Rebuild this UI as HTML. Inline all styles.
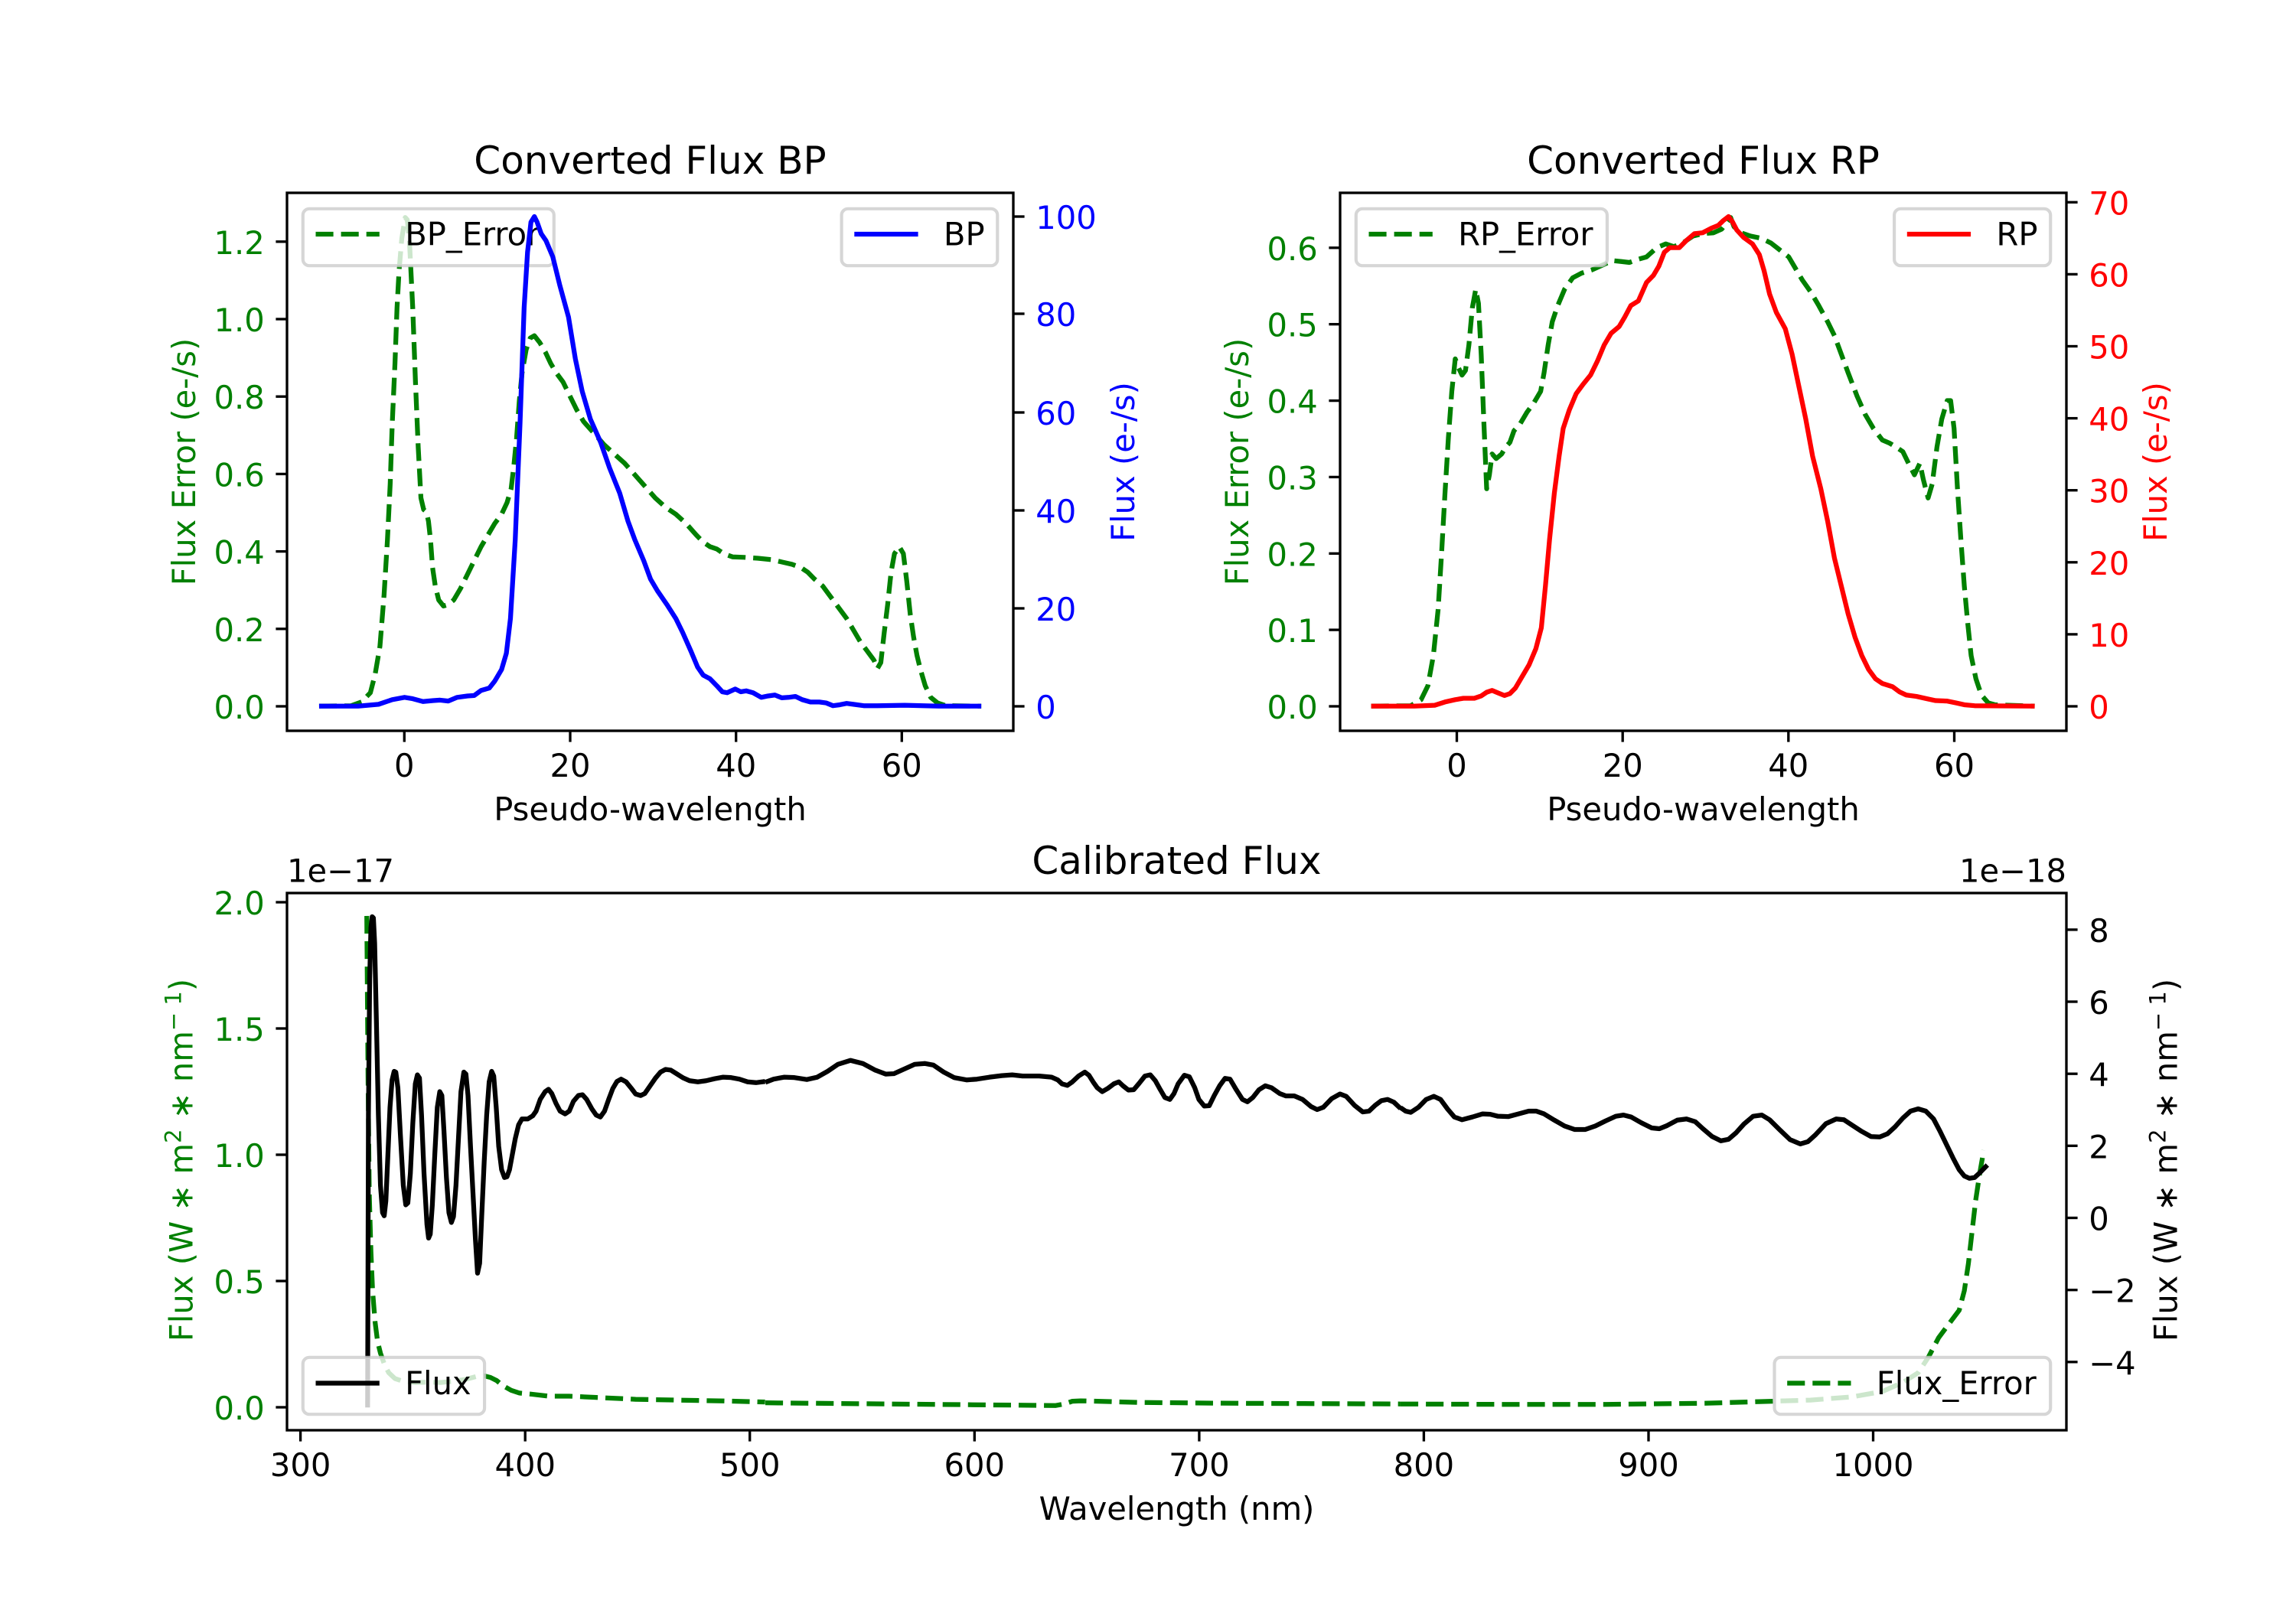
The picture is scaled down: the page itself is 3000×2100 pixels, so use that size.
<!DOCTYPE html>
<html><head><meta charset="utf-8">
<style>
html,body{margin:0;padding:0;background:#fff;}
svg{display:block;font-family:"DejaVu Sans","Liberation Sans",sans-serif;}
.ln{fill:none;stroke-width:6.25;stroke-linejoin:round;vector-effect:non-scaling-stroke;}
.ds{stroke-dasharray:23.1 10;stroke-linecap:butt;}
.t{font-size:41.67px;}
.tk{stroke:#000;stroke-width:3.33;}
.lg{fill:#fff;fill-opacity:0.8;stroke:#cccccc;stroke-opacity:0.8;stroke-width:4.17;}
</style></head>
<body>
<svg width="3000" height="2100" viewBox="0 0 3000 2100" xmlns="http://www.w3.org/2000/svg">
<rect x="0" y="0" width="3000" height="2100" fill="#fff"/>

<!-- ================= BP PANEL ================= -->
<g transform="matrix(0.892857 0 0 0.605877 200 160)">
<polyline class="ln ds" stroke="#008000" points="243,1259 290,1258 305,1250 318,1230 325,1190 332,1130 338,1020 343,900 347,780 350,650 354,520 357,400 360,320 364,250 369,205 372,210 375,250 380,400 384,560 388,700 392,810 396,835 400,840 403,860 406,900 409,960 413,1000 418,1030 425,1043 432,1040 440,1030 450,1005 460,975 470,945 480,915 490,890 500,865 510,845 518,820 524,790 528,740 532,680 536,600 540,540 546,490 552,465 558,460 566,475 574,495 582,520 590,540 600,560 610,590 620,620 630,645 645,670 660,695 675,715 690,735 705,760 720,785 735,810 750,830 765,845 780,865 795,890 805,905 815,915 825,920 835,930 848,937 865,938 885,940 905,943 920,948 935,953 948,960 958,970 968,985 980,1000 990,1020 1000,1040 1015,1070 1025,1095 1035,1120 1045,1140 1055,1160 1060,1178 1065,1165 1070,1100 1075,1040 1080,970 1085,930 1092,915 1098,930 1103,990 1108,1060 1113,1110 1118,1150 1123,1180 1130,1215 1138,1240 1148,1252 1160,1258 1212,1259"/>
</g>
<!-- BP_Error legend -->
<rect class="lg" x="395.8" y="272.8" width="328" height="74.4" rx="8.3" ry="8.3"/>
<line x1="412.5" y1="306" x2="495.8" y2="306" stroke="#008000" stroke-width="6.25" stroke-dasharray="23.1 10"/>
<text class="t" x="529.2" y="320.5" fill="#000">BP_Error</text>
<g transform="matrix(0.892857 0 0 0.605877 200 160)">
<polyline class="ln" stroke="#0000ff" points="243,1259 300,1259 330,1255 350,1245 368,1240 380,1243 395,1249 410,1247 420,1246 432,1248 445,1240 460,1237 470,1236 480,1225 492,1220 500,1205 510,1180 517,1145 523,1070 530,900 537,650 543,400 548,280 553,215 558,203 562,215 568,240 575,255 585,290 595,350 608,420 618,510 628,580 640,640 655,690 668,745 683,800 695,860 705,900 718,945 728,985 738,1010 752,1040 765,1070 775,1100 787,1140 797,1175 805,1192 815,1200 825,1215 833,1228 840,1230 852,1222 860,1228 868,1226 878,1230 890,1240 900,1237 910,1235 920,1241 930,1240 940,1238 950,1245 962,1250 975,1250 985,1252 995,1258 1005,1256 1015,1253 1025,1255 1040,1258 1060,1258 1100,1257 1150,1259 1212,1259"/>
</g>
<!-- BP legend -->
<rect class="lg" x="1099.6" y="272.8" width="203.7" height="74.4" rx="8.3" ry="8.3"/>
<line x1="1116.3" y1="306" x2="1199.6" y2="306" stroke="#0000ff" stroke-width="6.25"/>
<text class="t" x="1232.9" y="320.5" fill="#000">BP</text>

<!-- BP frame & ticks -->
<rect x="375" y="252" width="949" height="703" fill="none" stroke="#000" stroke-width="3.33"/>
<g class="tk">
<line x1="375" y1="923" x2="360.4" y2="923"/>
<line x1="375" y1="821.8" x2="360.4" y2="821.8"/>
<line x1="375" y1="720.6" x2="360.4" y2="720.6"/>
<line x1="375" y1="619.4" x2="360.4" y2="619.4"/>
<line x1="375" y1="518.2" x2="360.4" y2="518.2"/>
<line x1="375" y1="417" x2="360.4" y2="417"/>
<line x1="375" y1="315.8" x2="360.4" y2="315.8"/>
<line x1="1324" y1="923" x2="1338.6" y2="923"/>
<line x1="1324" y1="795" x2="1338.6" y2="795"/>
<line x1="1324" y1="667" x2="1338.6" y2="667"/>
<line x1="1324" y1="539" x2="1338.6" y2="539"/>
<line x1="1324" y1="410" x2="1338.6" y2="410"/>
<line x1="1324" y1="283" x2="1338.6" y2="283"/>
<line x1="528.3" y1="955" x2="528.3" y2="969.6"/>
<line x1="745" y1="955" x2="745" y2="969.6"/>
<line x1="961.7" y1="955" x2="961.7" y2="969.6"/>
<line x1="1178.3" y1="955" x2="1178.3" y2="969.6"/>
</g>
<g class="t" fill="#008000" text-anchor="end">
<text x="345.8" y="939">0.0</text>
<text x="345.8" y="837.8">0.2</text>
<text x="345.8" y="736.6">0.4</text>
<text x="345.8" y="635.4">0.6</text>
<text x="345.8" y="534.2">0.8</text>
<text x="345.8" y="433">1.0</text>
<text x="345.8" y="331.8">1.2</text>
</g>
<g class="t" fill="#0000ff">
<text x="1353.2" y="939">0</text>
<text x="1353.2" y="811">20</text>
<text x="1353.2" y="683">40</text>
<text x="1353.2" y="555">60</text>
<text x="1353.2" y="426">80</text>
<text x="1353.2" y="299">100</text>
</g>
<g class="t" fill="#000" text-anchor="middle">
<text x="528.3" y="1015">0</text>
<text x="745" y="1015">20</text>
<text x="961.7" y="1015">40</text>
<text x="1178.3" y="1015">60</text>
<text x="849.5" y="1072">Pseudo-wavelength</text>
</g>
<text x="849.5" y="227" font-size="50" text-anchor="middle" fill="#000">Converted Flux BP</text>
<text class="t" transform="translate(255,603.5) rotate(-90)" text-anchor="middle" fill="#008000">Flux Error (e-/s)</text>
<text class="t" transform="translate(1482,603.5) rotate(-90)" text-anchor="middle" fill="#0000ff">Flux (e-/s)</text>

<!-- ================= RP PANEL ================= -->
<g transform="matrix(0.892857 0 0 0.605877 1580 160)">
<polyline class="ln ds" stroke="#008000" points="237,1259 295,1258 310,1245 320,1215 328,1150 335,1050 340,930 345,800 350,680 355,580 360,510 365,530 370,545 375,535 380,480 385,400 390,360 394,390 398,500 402,650 406,790 410,760 414,715 420,725 428,715 434,700 440,690 446,665 455,650 465,625 475,605 485,580 490,540 496,480 502,430 510,395 520,360 532,335 545,325 560,318 575,308 590,298 603,300 615,302 628,295 640,290 655,270 668,262 680,268 695,258 708,245 722,240 738,238 750,230 758,215 763,205 768,225 778,238 792,245 808,250 822,260 835,275 848,290 858,315 868,340 880,365 892,395 905,430 915,460 925,500 935,540 948,590 960,630 972,660 985,685 996,692 1005,700 1015,710 1025,740 1032,760 1040,735 1045,770 1052,810 1058,780 1065,700 1072,640 1080,600 1085,600 1090,660 1095,790 1100,900 1105,1000 1110,1080 1115,1150 1122,1200 1130,1235 1140,1252 1150,1256 1208,1259"/>
</g>
<rect class="lg" x="1771.8" y="272.8" width="328.1" height="74.4" rx="8.3" ry="8.3"/>
<line x1="1788.5" y1="306" x2="1871.8" y2="306" stroke="#008000" stroke-width="6.25" stroke-dasharray="23.1 10"/>
<text class="t" x="1905.1" y="320.5" fill="#000">RP_Error</text>
<g transform="matrix(0.892857 0 0 0.605877 1580 160)">
<polyline class="ln" stroke="#ff0000" points="237,1259 300,1259 330,1257 345,1250 360,1245 372,1242 388,1242 398,1237 406,1229 414,1225 422,1230 432,1236 440,1232 448,1220 458,1195 468,1170 478,1135 486,1090 492,1000 498,900 505,800 512,720 518,660 527,620 537,585 547,565 558,545 568,515 578,480 588,455 600,440 608,420 617,395 628,385 640,345 650,330 658,310 666,280 674,270 688,270 698,255 710,240 722,238 735,228 745,222 752,212 760,203 766,215 772,232 782,248 795,262 805,285 812,320 820,370 830,410 843,445 853,500 863,570 873,640 883,720 895,790 905,860 915,940 925,1000 935,1060 945,1110 955,1150 965,1180 975,1200 985,1210 1000,1217 1010,1228 1020,1235 1035,1238 1050,1243 1063,1247 1080,1248 1093,1252 1105,1256 1120,1258 1208,1259"/>
</g>
<rect class="lg" x="2475.1" y="272.8" width="204.1" height="74.4" rx="8.3" ry="8.3"/>
<line x1="2491.8" y1="306" x2="2575.1" y2="306" stroke="#ff0000" stroke-width="6.25"/>
<text class="t" x="2608.4" y="320.5" fill="#000">RP</text>

<rect x="1751" y="252" width="949" height="703" fill="none" stroke="#000" stroke-width="3.33"/>
<g class="tk">
<line x1="1751" y1="923" x2="1736.4" y2="923"/>
<line x1="1751" y1="823.1" x2="1736.4" y2="823.1"/>
<line x1="1751" y1="723.3" x2="1736.4" y2="723.3"/>
<line x1="1751" y1="623.4" x2="1736.4" y2="623.4"/>
<line x1="1751" y1="523.6" x2="1736.4" y2="523.6"/>
<line x1="1751" y1="423.7" x2="1736.4" y2="423.7"/>
<line x1="1751" y1="323.8" x2="1736.4" y2="323.8"/>
<line x1="2700" y1="923" x2="2714.6" y2="923"/>
<line x1="2700" y1="828.9" x2="2714.6" y2="828.9"/>
<line x1="2700" y1="734.8" x2="2714.6" y2="734.8"/>
<line x1="2700" y1="640.7" x2="2714.6" y2="640.7"/>
<line x1="2700" y1="546.6" x2="2714.6" y2="546.6"/>
<line x1="2700" y1="452.5" x2="2714.6" y2="452.5"/>
<line x1="2700" y1="358.4" x2="2714.6" y2="358.4"/>
<line x1="2700" y1="264.3" x2="2714.6" y2="264.3"/>
<line x1="1903.5" y1="955" x2="1903.5" y2="969.6"/>
<line x1="2120.2" y1="955" x2="2120.2" y2="969.6"/>
<line x1="2336.8" y1="955" x2="2336.8" y2="969.6"/>
<line x1="2553.5" y1="955" x2="2553.5" y2="969.6"/>
</g>
<g class="t" fill="#008000" text-anchor="end">
<text x="1721.8" y="939">0.0</text>
<text x="1721.8" y="839.1">0.1</text>
<text x="1721.8" y="739.3">0.2</text>
<text x="1721.8" y="639.4">0.3</text>
<text x="1721.8" y="539.6">0.4</text>
<text x="1721.8" y="439.7">0.5</text>
<text x="1721.8" y="339.8">0.6</text>
</g>
<g class="t" fill="#ff0000">
<text x="2729.2" y="939">0</text>
<text x="2729.2" y="844.9">10</text>
<text x="2729.2" y="750.8">20</text>
<text x="2729.2" y="656.7">30</text>
<text x="2729.2" y="562.6">40</text>
<text x="2729.2" y="468.5">50</text>
<text x="2729.2" y="374.4">60</text>
<text x="2729.2" y="280.3">70</text>
</g>
<g class="t" fill="#000" text-anchor="middle">
<text x="1903.5" y="1015">0</text>
<text x="2120.2" y="1015">20</text>
<text x="2336.8" y="1015">40</text>
<text x="2553.5" y="1015">60</text>
<text x="2225.5" y="1072">Pseudo-wavelength</text>
</g>
<text x="2225.5" y="227" font-size="50" text-anchor="middle" fill="#000">Converted Flux RP</text>
<text class="t" transform="translate(1631,603.5) rotate(-90)" text-anchor="middle" fill="#008000">Flux Error (e-/s)</text>
<text class="t" transform="translate(2831,603.5) rotate(-90)" text-anchor="middle" fill="#ff0000">Flux (e-/s)</text>

<!-- ================= CALIBRATED PANEL ================= -->
<g transform="matrix(0.542093 0 0 0.510204 180 1100)">
<polyline class="ln ds" stroke="#008000" points="552,190 555,600 558,900 562,1050 566,1150 572,1230 578,1280 585,1310 595,1340 605,1360 620,1375 640,1382 670,1385 700,1384 730,1385 760,1382 790,1377 815,1370 835,1368 850,1372 865,1380 880,1393 900,1405 920,1412 950,1415 990,1420 1040,1420 1100,1423 1200,1428 1300,1430 1400,1432 1512,1435"/>
</g>
<g transform="matrix(0.542093 0 0 0.510204 1000 1100)">
<polyline class="ln ds" stroke="#008000" points="0,1437 300,1440 500,1442 600,1443 700,1444 720,1440 740,1433 760,1432 800,1433 900,1436 1100,1438 1300,1439 1531,1440"/>
</g>
<g transform="matrix(0.669643 0 0 0.510204 1830 1100)">
<polyline class="ln ds" stroke="#008000" points="0,1440 200,1441 400,1441 600,1438 700,1434 800,1430 880,1422 940,1408 980,1385 1010,1360 1030,1320 1050,1270 1070,1235 1090,1200 1100,1150 1108,1080 1115,1000 1122,920 1130,850 1138,790"/>
</g>
<!-- Flux_Error legend (ax1) -->
<rect class="lg" x="2318.5" y="1773.8" width="360.7" height="74.4" rx="8.3" ry="8.3"/>
<line x1="2335.2" y1="1807.5" x2="2418.5" y2="1807.5" stroke="#008000" stroke-width="6.25" stroke-dasharray="23.1 10"/>
<text class="t" x="2451.8" y="1822" fill="#000">Flux_Error</text>

<g transform="matrix(0.542093 0 0 0.510204 180 1100)">
<polyline class="ln" stroke="#000" points="554,1449 556,700 559,350 562,220 565,192 568,195 571,260 575,450 580,700 585,880 590,950 594,958 598,920 603,800 608,680 613,610 618,588 622,590 627,630 633,750 640,880 646,930 651,925 657,850 663,720 669,620 674,597 679,605 684,700 690,850 697,980 701,1015 705,1005 710,930 716,800 722,680 728,640 733,650 738,740 744,860 750,950 756,975 761,960 767,880 773,760 779,640 786,590 791,595 796,650 802,780 808,900 814,1020 819,1105 824,1080 829,960 835,820 841,700 847,615 853,588 858,600 864,680 870,780 877,840 884,860 890,858 896,840 903,800 910,760 918,725 926,710 940,710 952,702 960,690 970,660 982,640 990,634 998,645 1008,670 1018,690 1030,697 1040,690 1050,665 1062,650 1072,648 1082,660 1095,685 1105,700 1115,705 1125,690 1135,660 1145,632 1155,614 1165,608 1177,615 1190,632 1200,646 1212,650 1222,645 1235,625 1248,605 1260,590 1272,583 1285,585 1300,595 1315,605 1330,612 1350,615 1370,612 1390,607 1410,603 1430,604 1450,608 1470,615 1490,617 1512,614"/>
</g>
<g transform="matrix(0.542093 0 0 0.510204 1000 1100)">
<polyline class="ln" stroke="#000" points="0,616 20,608 45,603 70,604 100,609 125,603 150,588 175,570 205,560 235,568 265,585 290,595 310,594 335,582 360,570 385,568 405,572 430,590 455,604 485,610 510,608 540,603 570,599 595,597 620,600 660,600 690,603 705,610 715,620 728,624 740,615 755,600 770,590 780,598 790,615 800,630 812,640 825,632 840,620 852,615 862,625 875,636 888,635 900,620 915,600 928,597 940,612 952,635 963,655 975,660 985,645 995,620 1010,598 1022,602 1035,630 1045,660 1058,677 1070,676 1082,650 1095,625 1108,606 1120,608 1135,635 1150,660 1162,666 1175,655 1190,635 1205,625 1220,630 1240,645 1255,651 1275,651 1295,660 1315,678 1330,686 1345,680 1365,658 1385,646 1400,652 1420,675 1440,692 1455,690 1470,675 1485,663 1500,660 1515,667 1531,683"/>
</g>
<g transform="matrix(0.669643 0 0 0.510204 1830 1100)">
<polyline class="ln" stroke="#000" points="0,681 10,690 20,693 35,680 50,660 65,652 78,660 92,685 105,705 120,712 140,705 160,697 175,698 190,703 210,704 230,697 250,690 265,690 280,697 300,713 320,728 340,737 360,737 380,728 400,715 420,703 435,700 450,705 470,720 490,733 505,735 520,727 540,713 558,710 575,717 590,735 608,755 625,766 640,762 655,745 670,723 688,703 705,700 720,712 740,738 760,763 780,774 795,768 810,750 830,722 850,710 865,712 880,725 900,742 918,755 935,756 950,748 965,730 980,708 995,690 1010,684 1025,690 1040,710 1052,740 1065,775 1078,810 1090,840 1100,856 1110,862 1120,860 1130,848 1145,828"/>
</g>
<!-- Flux legend (ax2, on top) -->
<rect class="lg" x="395.8" y="1773.8" width="237.3" height="74.4" rx="8.3" ry="8.3"/>
<line x1="412.5" y1="1807.5" x2="495.8" y2="1807.5" stroke="#000" stroke-width="6.25"/>
<text class="t" x="529.1" y="1822" fill="#000">Flux</text>

<rect x="375" y="1167" width="2325" height="702" fill="none" stroke="#000" stroke-width="3.33"/>
<g class="tk">
<line x1="375" y1="1839" x2="360.4" y2="1839"/>
<line x1="375" y1="1674" x2="360.4" y2="1674"/>
<line x1="375" y1="1509" x2="360.4" y2="1509"/>
<line x1="375" y1="1344" x2="360.4" y2="1344"/>
<line x1="375" y1="1179" x2="360.4" y2="1179"/>
<line x1="2700" y1="1779.8" x2="2714.6" y2="1779.8"/>
<line x1="2700" y1="1685.7" x2="2714.6" y2="1685.7"/>
<line x1="2700" y1="1591.5" x2="2714.6" y2="1591.5"/>
<line x1="2700" y1="1497.3" x2="2714.6" y2="1497.3"/>
<line x1="2700" y1="1403.2" x2="2714.6" y2="1403.2"/>
<line x1="2700" y1="1309" x2="2714.6" y2="1309"/>
<line x1="2700" y1="1214.9" x2="2714.6" y2="1214.9"/>
<line x1="392.6" y1="1869" x2="392.6" y2="1883.6"/>
<line x1="686.2" y1="1869" x2="686.2" y2="1883.6"/>
<line x1="979.7" y1="1869" x2="979.7" y2="1883.6"/>
<line x1="1273.3" y1="1869" x2="1273.3" y2="1883.6"/>
<line x1="1566.9" y1="1869" x2="1566.9" y2="1883.6"/>
<line x1="1860.4" y1="1869" x2="1860.4" y2="1883.6"/>
<line x1="2154" y1="1869" x2="2154" y2="1883.6"/>
<line x1="2447.5" y1="1869" x2="2447.5" y2="1883.6"/>
</g>
<g class="t" fill="#008000" text-anchor="end">
<text x="345.8" y="1855">0.0</text>
<text x="345.8" y="1690">0.5</text>
<text x="345.8" y="1525">1.0</text>
<text x="345.8" y="1360">1.5</text>
<text x="345.8" y="1195">2.0</text>
</g>
<g class="t" fill="#000">
<text x="2729.2" y="1795.8">−4</text>
<text x="2729.2" y="1701.7">−2</text>
<text x="2729.2" y="1607.5">0</text>
<text x="2729.2" y="1513.3">2</text>
<text x="2729.2" y="1419.2">4</text>
<text x="2729.2" y="1325">6</text>
<text x="2729.2" y="1230.9">8</text>
</g>
<g class="t" fill="#000" text-anchor="middle">
<text x="392.6" y="1929">300</text>
<text x="686.2" y="1929">400</text>
<text x="979.7" y="1929">500</text>
<text x="1273.3" y="1929">600</text>
<text x="1566.9" y="1929">700</text>
<text x="1860.4" y="1929">800</text>
<text x="2154" y="1929">900</text>
<text x="2447.5" y="1929">1000</text>
<text x="1537.5" y="1986">Wavelength (nm)</text>
</g>
<text class="t" x="375" y="1152.5" fill="#000">1e−17</text>
<text class="t" x="2700" y="1152.5" text-anchor="end" fill="#000">1e−18</text>
<text x="1537.5" y="1142" font-size="50" text-anchor="middle" fill="#000">Calibrated Flux</text>
<text class="t" transform="translate(251.5,1516) rotate(-90)" text-anchor="middle" fill="#008000">Flux (W ∗ m<tspan font-size="29" dy="-15">2</tspan><tspan dy="15"> ∗ nm</tspan><tspan font-size="29" dy="-15">− 1</tspan><tspan dy="15">)</tspan></text>
<text class="t" transform="translate(2844.5,1516) rotate(-90)" text-anchor="middle" fill="#000">Flux (W ∗ m<tspan font-size="29" dy="-15">2</tspan><tspan dy="15"> ∗ nm</tspan><tspan font-size="29" dy="-15">− 1</tspan><tspan dy="15">)</tspan></text>
</svg>
</body></html>
